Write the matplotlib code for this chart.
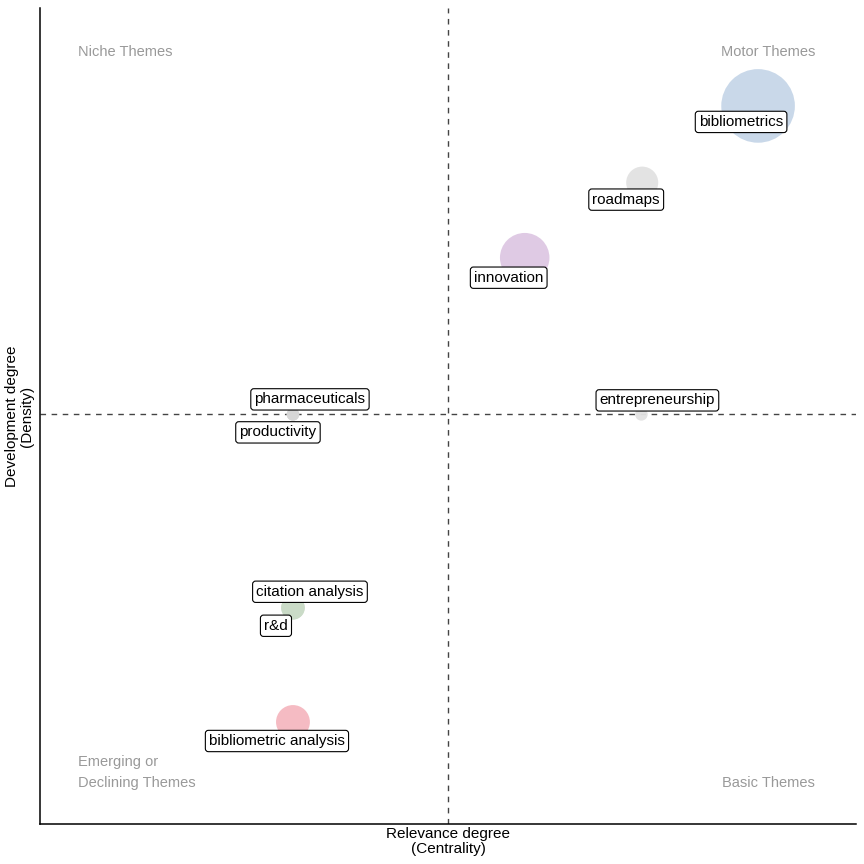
import matplotlib.pyplot as plt

plt.rcParams["font.family"] = ["Liberation Sans", "DejaVu Sans"]

# ---- data (cluster centrality / density / frequency) ----
themes = ["bibliometrics", "roadmaps", "innovation", "entrepreneurship",
          "pharmaceuticals", "productivity", "citation analysis", "r&d",
          "bibliometric analysis"]
centrality = [0.880, 0.738, 0.594, 0.737, 0.310, 0.310, 0.310, 0.310, 0.310]
density = [0.880, 0.786, 0.694, 0.502, 0.502, 0.502, 0.265, 0.265, 0.125]
freq = [137, 26, 62, 4, 4, 4, 14, 14, 29]

mean_centrality = 0.5
mean_density = 0.502

# ---- style ----
colors = ["#c6d6e8", "#e2e2e2", "#dec8e3", "#e2e2e2", "#d6d6d6",
          "#d6d6d6", "#cadbc7", "#cadbc7", "#f5b8c0"]
# label offsets in pixels (dx right, dy down) as seen in the reference
label_off = [(-17, 16), (-16, 17), (-16, 20), (16, -14), (17, -15),
             (-15, 18), (17, -16), (-17, 18), (-16, 19)]
quad_color = "#999999"

fig = plt.figure(figsize=(8.64, 8.64), dpi=100)
ax = fig.add_axes([40 / 864, 40 / 864, 816 / 864, 816 / 864])
ax.set_xlim(0, 1)
ax.set_ylim(0, 1)

ax.axvline(mean_centrality, color="#444444", lw=1, ls=(0, (4, 4)), zorder=1)
ax.axhline(mean_density, color="#444444", lw=1, ls=(0, (4, 4)), zorder=1)

sizes = [f * 20.5 for f in freq]
ax.scatter(centrality, density, s=sizes, c=colors, alpha=0.95,
           edgecolors="none", zorder=2)

for name, x, y, (dx, dy) in zip(themes, centrality, density, label_off):
    ax.annotate(name, (x, y), xytext=(dx * 0.72, -dy * 0.72),
                textcoords="offset points", ha="center", va="center",
                fontsize=11, zorder=3,
                bbox=dict(boxstyle="round,pad=0.24,rounding_size=0.2",
                          fc="white", ec="black", lw=0.8))

# quadrant names
ax.text(0.0466, 0.946, "Niche Themes", color=quad_color, fontsize=10.5,
        ha="left", va="center", transform=ax.transAxes)
ax.text(0.95, 0.946, "Motor Themes", color=quad_color, fontsize=10.5,
        ha="right", va="center", transform=ax.transAxes)
ax.text(0.0466, 0.0632, "Emerging or\nDeclining Themes", color=quad_color,
        fontsize=10.5, ha="left", va="center", linespacing=1.6,
        transform=ax.transAxes)
ax.text(0.95, 0.0503, "Basic Themes", color=quad_color, fontsize=10.5,
        ha="right", va="center", transform=ax.transAxes)

ax.set_xticks([])
ax.set_yticks([])
for side in ["top", "right"]:
    ax.spines[side].set_visible(False)
for side in ["left", "bottom"]:
    ax.spines[side].set_linewidth(1.1)

ax.set_xlabel("Relevance degree\n(Centrality)", fontsize=11, labelpad=2,
              linespacing=1.1)
ax.set_ylabel("Development degree\n(Density)", fontsize=11, labelpad=4,
              linespacing=1.1)

fig.savefig("out.png", dpi=100)
